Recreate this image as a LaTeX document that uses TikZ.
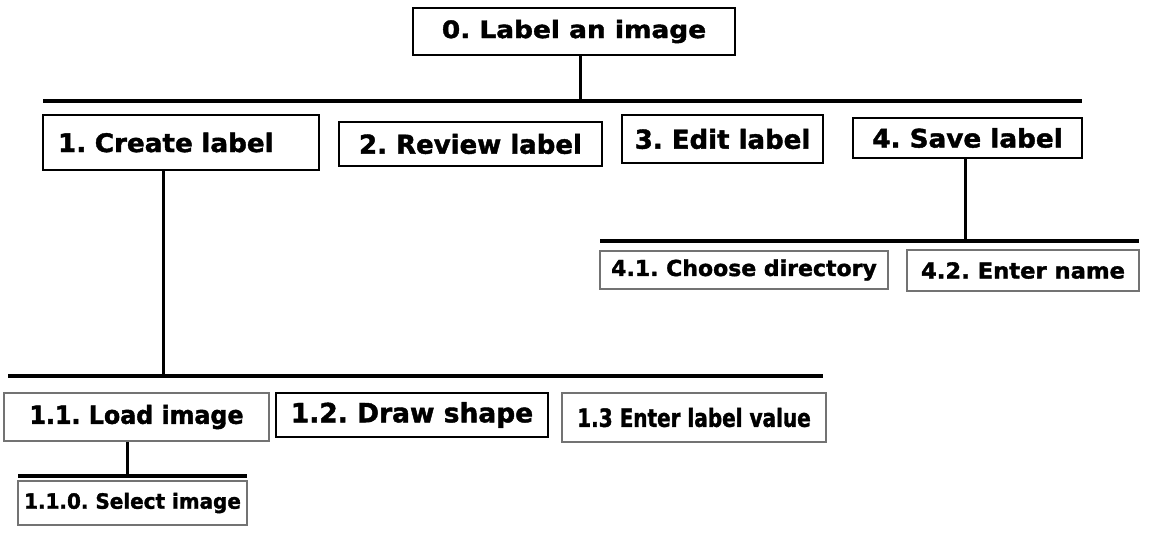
\documentclass[tikz,border=0pt]{standalone}
\usepackage{fontspec}
\setmainfont{DejaVu Sans}
\usetikzlibrary{positioning}

\tikzset{
	box/.style={draw, line width=1.5pt, inner sep=0pt, align=center},
	graybox/.style={box, draw=black!55, line width=2pt},
	txt/.style 2 args={font={\fontsize{#1}{#1}\selectfont\bfseries\addfontfeature{FakeStretch=#2,FakeBold=1.6}}},
	bar/.style={line width=4pt},
	stem/.style={line width=3pt}
}

\begin{document}
\frenchspacing
\begin{tikzpicture}[x=1pt, y=-1pt]
	\useasboundingbox (0,0) rectangle (1150,539);
	% top level
	\node[box, txt={24}{1.1}, minimum width=322, minimum height=47] (label) at (574,31.5) {0. Label an image};
	\coordinate (top bar l) at (43,101);
	\coordinate (top bar r) at (1082,101);
	\coordinate (top join) at (580,101);
	\draw[bar] (top bar l) -- (top bar r);
	\draw[stem] (label.south -| top join) -- (top join);
	% second level
	\node[box, txt={25.5}{1.03}, minimum height=55, text width=246, align=left, inner xsep=15] (create) at (181,142.5) {1. Create label};
	\node[box, txt={26}{1.0}, minimum width=263, minimum height=44] (review) at (470.5,144) {2. Review label};
	\node[box, txt={26}{1.0}, minimum width=201, minimum height=48] (edit) at (722.5,139) {3. Edit label};
	\node[box, txt={25.5}{1.03}, minimum width=229, minimum height=40] (save) at (967.5,138) {4. Save label};
	% children of save
	\coordinate (save bar l) at (600,241);
	\coordinate (save bar r) at (1139,241);
	\coordinate (save join) at (965,241);
	\draw[bar] (save bar l) -- (save bar r);
	\draw[stem] (save.south -| save join) -- (save join);
	\node[graybox, txt={22}{1.0}, minimum width=288, minimum height=38] (directory) at (744,270) {4.1. Choose directory};
	\node[graybox, txt={22}{1.03}, minimum width=232, minimum height=41] (name) at (1023,270.5) {4.2. Enter name};
	% children of create
	\coordinate (create bar l) at (8,376);
	\coordinate (create bar r) at (823,376);
	\coordinate (create join) at (163,376);
	\draw[bar] (create bar l) -- (create bar r);
	\draw[stem] (create.south -| create join) -- (create join);
	\node[graybox, txt={25}{0.95}, minimum width=265, minimum height=48] (load) at (136.5,417) {1.1. Load image};
	\node[box, txt={26.5}{1.0}, minimum width=272, minimum height=44] (draw) at (412,415) {1.2. Draw shape};
	\node[graybox, txt={25}{0.8}, minimum width=264, minimum height=49] (value) at (694,417.5) {1.3 Enter label value};
	% child of load
	\coordinate (load bar l) at (18,476);
	\coordinate (load bar r) at (247,476);
	\coordinate (load join) at (127,476);
	\draw[bar] (load bar l) -- (load bar r);
	\draw[stem] (load.south -| load join) -- (load join);
	\node[graybox, txt={21}{0.95}, minimum width=229, minimum height=44] (select) at (132.5,503) {1.1.0. Select image};
\end{tikzpicture}
\end{document}
